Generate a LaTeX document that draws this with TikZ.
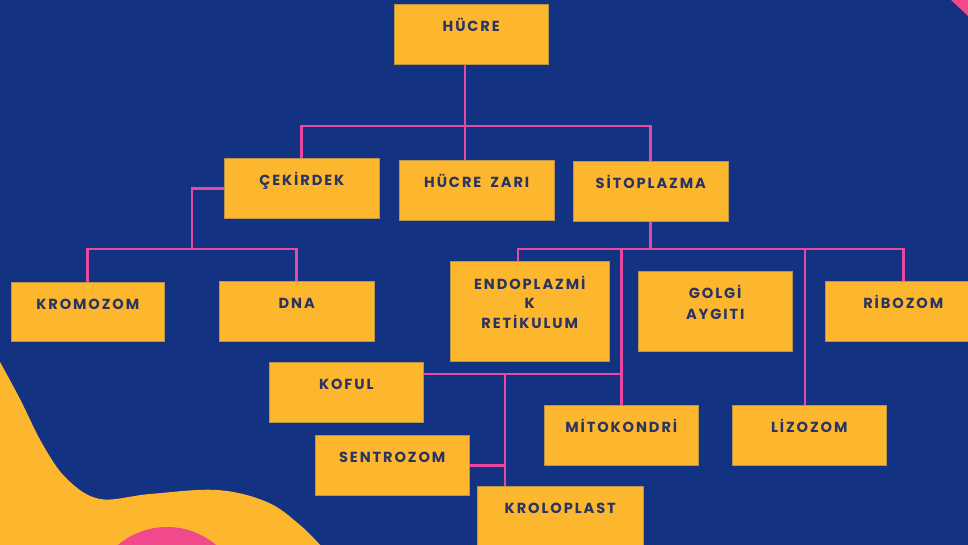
\documentclass[tikz,border=0pt]{standalone}
\usepackage{fontspec}
\newfontfamily\boxfont{Poppins}[LetterSpace=13]
\definecolor{navy}{HTML}{143282}
\definecolor{boxy}{HTML}{FDB72E}
\definecolor{boxedge}{HTML}{B8954A}
\definecolor{txt}{HTML}{2A3462}
\definecolor{pinkline}{HTML}{E848A0}
\definecolor{pinkfill}{HTML}{F04A8C}
\pgfdeclarelayer{bg}
\pgfdeclarelayer{lines}
\pgfsetlayers{bg,lines,main}
\tikzset{
  box/.style={fill=boxy, draw=boxedge, line width=0.5pt, inner xsep=0pt, inner ysep=0pt,
    align=center, text=txt, anchor=north west,
    font=\boxfont\bfseries\fontsize{14.6}{19.5}\selectfont},
  onerow/.style={text height=27.5pt, text depth=32.5pt},
  link/.style={draw=pinkline, line width=2.6pt}
}
\begin{document}
\begin{tikzpicture}[x=1pt,y=-1pt]
\useasboundingbox (0,0) rectangle (968,545);
\begin{pgfonlayer}{bg}
\clip (0,0) rectangle (968,545);
\fill[navy] (0,0) rectangle (968,545);
\fill[boxy] plot[smooth, tension=0.6] coordinates {(0,362) (20,399) (43,445) (67,479) (100,499) (150,494) (217,490) (267,502) (300,525) (323,548)} -- (0,548) -- cycle;
\fill[pinkfill] (167,603) circle[radius=76pt];
\fill[pinkfill] (951,0) -- (968,0) -- (968,16) -- cycle;
\end{pgfonlayer}
\begin{scope}
\clip (0,0) rectangle (968,545);
\node[box, onerow, text width=154pt] (hucre) at (394,4) {HÜCRE};
\node[box, onerow, text width=155pt] (cek) at (224,158) {ÇEKİRDEK};
\node[box, onerow, text width=155pt] (zari) at (399,160) {HÜCRE\hspace{9pt}ZARI};
\node[box, onerow, text width=155pt] (sito) at (573,161) {SİTOPLAZMA};
\node[box, onerow, text width=153pt, text depth=31.5pt] (kro) at (11,282) {KROMOZOM};
\node[box, onerow, text width=155pt] (dna) at (219,281) {DNA};
\node[box, text width=159pt, text height=28pt, text depth=72pt] (endo) at (450,261) {ENDOPLAZMİ\\K\\RETİKULUM};
\node[box, text width=154pt, text height=27.5pt, text depth=52.5pt, font=\boxfont\bfseries\fontsize{14.6}{20.5}\selectfont] (golgi) at (638,271) {GOLGİ\\AYGITI};
\node[box, onerow, text width=156pt] (rib) at (825,281) {RİBOZOM};
\node[box, onerow, text width=154pt] (koful) at (269,362) {KOFUL};
\node[box, onerow, text width=154pt] (mito) at (544,405) {MİTOKONDRİ};
\node[box, onerow, text width=154pt] (liz) at (732,405) {LİZOZOM};
\node[box, onerow, text width=154pt] (sent) at (315,435) {SENTROZOM};
\node[box, onerow, text width=166pt] (krol) at (477,486) {KROLOPLAST};
\end{scope}
\coordinate (j1) at (465,126);
\coordinate (j2) at (192,249);
\coordinate (e1) at (518,249);
\coordinate (e2) at (805,249);
\coordinate (k1) at (621,374);
\coordinate (k2) at (505,374);
\begin{pgfonlayer}{lines}
\draw[link] (j1 |- hucre.south) -- (j1 |- zari.north);
\draw[link] (cek.north) |- (j1) -| (sito.north);
\draw[link] (cek.west) -| (j2);
\draw[link] (kro.north) |- (j2) -| (dna.north);
\draw[link] (sito.south) -- (sito.south |- e1);
\draw[link] (e1 |- endo.north) -- (e1) -| (rib.north);
\draw[link] (mito.north) -- (mito.north |- e1);
\draw[link] (e2 |- liz.north) -- (e2);
\draw[link] (koful.east |- k1) -- (mito.north |- k1);
\draw[link] (k2) -- (k2 |- krol.north);
\draw[link] (sent.east) -- (sent.east -| k2);
\end{pgfonlayer}
\end{tikzpicture}
\end{document}
